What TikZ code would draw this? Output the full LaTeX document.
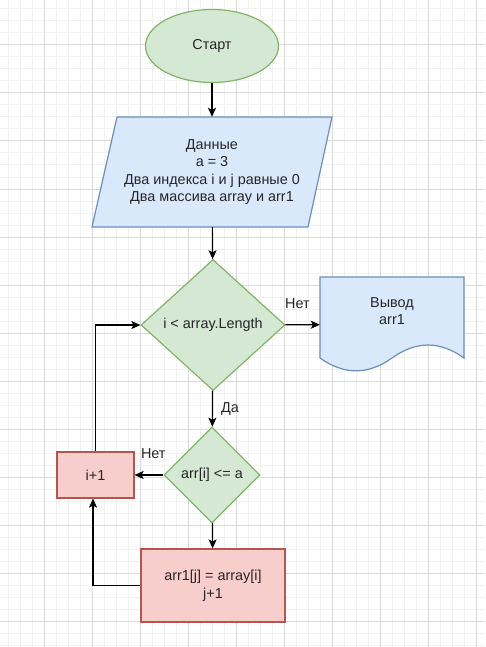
\documentclass[tikz,border=0pt]{standalone}
\usepackage{fontspec}
\setmainfont{Liberation Sans}
\usepackage{xcolor}
\usetikzlibrary{shapes.geometric,arrows.meta,calc}
\definecolor{greenfill}{HTML}{D5E8D4}
\definecolor{greendraw}{HTML}{82B366}
\definecolor{bluefill}{HTML}{DAE8FC}
\definecolor{bluedraw}{HTML}{6C8EBF}
\definecolor{redfill}{HTML}{F8CECC}
\definecolor{reddraw}{HTML}{B85450}

\begin{document}
\begin{tikzpicture}[x=1pt,y=-1pt,
	every node/.style={font=\fontsize{14.4}{17.6}\selectfont,text=black!85,align=center},
	minor_line/.style={black!5,line width=1pt},
	major_line/.style={black!14,line width=1pt},
	start_node/.style={ellipse,fill=greenfill,draw=greendraw,line width=1.2pt,minimum width=133pt,minimum height=73pt,inner sep=0pt},
	io_node/.style={rectangle,minimum width=215pt,minimum height=110pt,inner sep=0pt},
	io_shape/.style={fill=bluefill,draw=bluedraw,line width=1.2pt},
	cond_node/.style={diamond,fill=greenfill,draw=greendraw,line width=1.2pt,inner sep=0pt},
	act_node/.style={rectangle,fill=redfill,draw=reddraw,line width=1.2pt,inner sep=0pt},
	doc_node/.style={rectangle,minimum width=144pt,minimum height=95pt,inner sep=0pt,text height=47.6pt,text depth=47.4pt},
	arrow_line/.style={-{Stealth[length=9pt,width=8pt,inset=2pt]},line width=1.2pt,black},
	edge_label/.style={inner sep=3pt}]
				\useasboundingbox (0,0) rectangle (485,647);
				\foreach \x in {8,20,...,476} \draw[minor_line] (\x,0) -- (\x,647);
				\foreach \y in {9,21,...,645} \draw[minor_line] (0,\y) -- (485,\y);
				\foreach \x in {44,92,...,476} \draw[major_line] (\x,0) -- (\x,647);
				\foreach \y in {45,93,...,621} \draw[major_line] (0,\y) -- (485,\y);
				\filldraw[io_shape] (117,117) -- (332,117) -- (308,227) -- (92,227) -- cycle;
				\filldraw[io_shape] (320,277) -- (464,277) -- (464,358) .. controls (440,340.7) and (416,340.7) .. (392,358) .. controls (368,375.1) and (344,375.1) .. (320,358) -- cycle;
				\node[start_node](1) at (212,46){Старт};
				\node[io_node](2) at (212,172){Данные\\a = 3\\Два индекса i и j равные 0\\Два массива array и arr1};
				\node[cond_node,minimum width=144pt,minimum height=131pt](3) at (213,325){i < array.Length};
				\node[doc_node](4) at (392,324.5){Вывод\\arr1};
				\node[cond_node,minimum width=96pt,minimum height=96pt](5) at (212,475){arr[i] <= a};
				\node[act_node,minimum width=77pt,minimum height=46pt](6) at (95.5,475){i+1};
				\node[act_node,minimum width=144pt,minimum height=73pt](7) at (213,585.5){arr1[j] = array[i]\\j+1};
				\path[arrow_line]
				(1) edge              node {} (2)
				(2) edge              node {} (3)
				(3) edge              node[edge_label,above=13pt,pos=0.35] {Нет} (4)
				(3) edge              node[edge_label,right=5pt] {Да} (5)
				(5) edge              node[edge_label,above=13pt,pos=0.35] {Нет} (6)
				(5) edge              node {} (7);
				\draw[arrow_line] (7.west) -| ([xshift=-2.5pt]6.south);
				\draw[arrow_line] (6.north) |- (3.west);
			\end{tikzpicture}
\end{document}
